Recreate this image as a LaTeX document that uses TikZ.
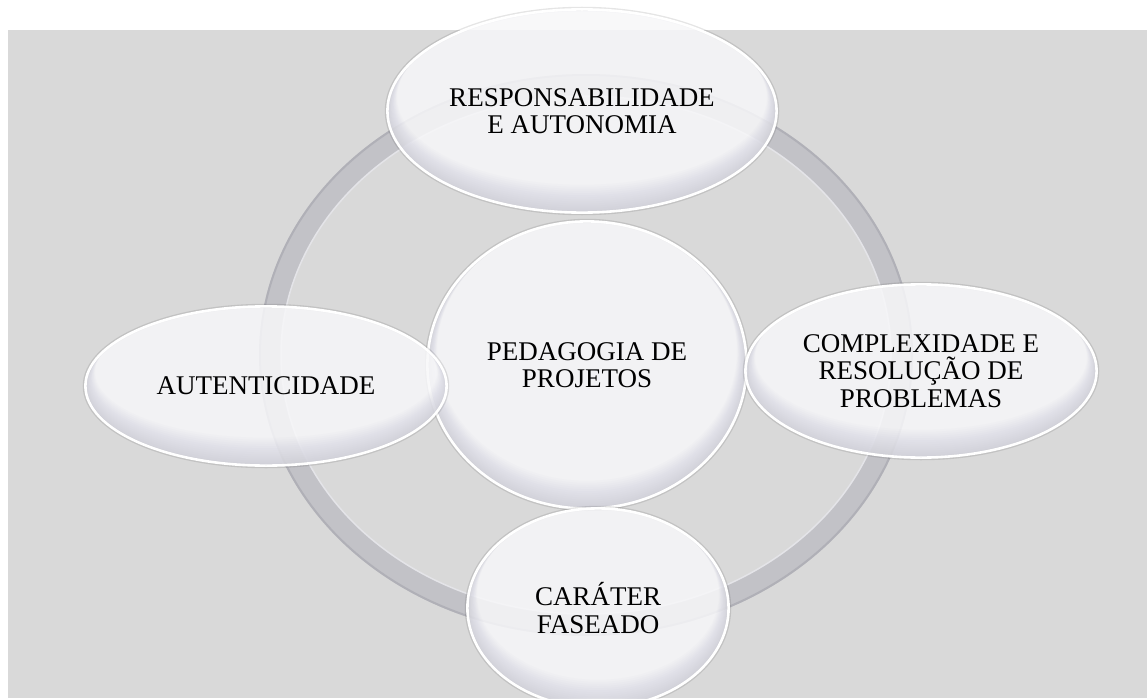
\documentclass[tikz,border=0pt]{standalone}
\usepackage{fontspec}
\setmainfont{Liberation Serif}
\usetikzlibrary{shapes.geometric}
\definecolor{bg}{HTML}{D9D9D9}
\definecolor{ringc}{HTML}{C2C2C7}
\definecolor{ringdark}{HTML}{B0B0B7}
\definecolor{ringlight}{HTML}{E4E4E8}
\definecolor{nfill}{HTML}{F7F7F9}
\definecolor{rimc}{HTML}{8C8CA0}
\newcommand\rimshade[3]{%
  \begin{scope}[shift={(#1.center)}]
    \begin{scope}
      \clip (0,0) ellipse [x radius=#2pt, y radius=#3pt];
      \foreach \k in {1,...,13} {
        \fill[rimc, fill opacity=0.024, even odd rule]
          (-#2-5,-#3-5) rectangle (#2+5,#3+5)
          (0,-1.05*\k) ellipse [x radius={#2-0.7*\k}, y radius={#3-1.05*\k}];
      }
    \end{scope}
    \draw[white, line width=1.4pt] (0,0) ellipse [x radius=#2pt, y radius=#3pt];
  \end{scope}}
\begin{document}
\begin{tikzpicture}[x=1pt,y=-1pt,
  bubble/.style={ellipse, inner sep=0pt, align=center, fill=nfill,
    fill opacity=0.86, text opacity=1, draw=white, line width=1.8pt,
    font=\fontsize{27}{27.5}\selectfont,
    preaction={draw=black, draw opacity=0.10, line width=4.5pt}},
  ringband/.style={ringc, line width=22pt},
  ringedge/.style={ringdark, line width=2pt},
  ringhi/.style={ringlight, line width=1.5pt}
]
\useasboundingbox (0,0) rectangle (1147,698);
\fill[white] (0,0) rectangle (1147,698);
\fill[bg] (8,30) rectangle (1147,698);
% ring
\draw[ringband] (586,355) ellipse [x radius=316pt, y radius=270pt];
\draw[ringedge] (586,355) ellipse [x radius=326pt, y radius=280pt];
\draw[ringhi] (586,355) ellipse [x radius=305pt, y radius=259pt];
% nodes
\node[bubble, minimum width=320pt, minimum height=288pt] (ctr) at (587,365) {PEDAGOGIA DE\\PROJETOS};
\rimshade{ctr}{159}{143}
\node[bubble, minimum width=390pt, minimum height=204pt] (top) at (582,111) {RESPONSABILIDADE\\E AUTONOMIA};
\rimshade{top}{194}{101}
\node[bubble, minimum width=362pt, minimum height=160pt] (lft) at (266,386) {AUTENTICIDADE};
\rimshade{lft}{180}{79}
\node[bubble, minimum width=352pt, minimum height=174pt] (rgt) at (921,371) {COMPLEXIDADE E\\RESOLUÇÃO DE\\PROBLEMAS};
\rimshade{rgt}{175}{86}
\node[bubble, minimum width=262pt, minimum height=200pt] (bot) at (598,608) {CARÁTER\\FASEADO};
\rimshade{bot}{130}{99}
\end{tikzpicture}
\end{document}
